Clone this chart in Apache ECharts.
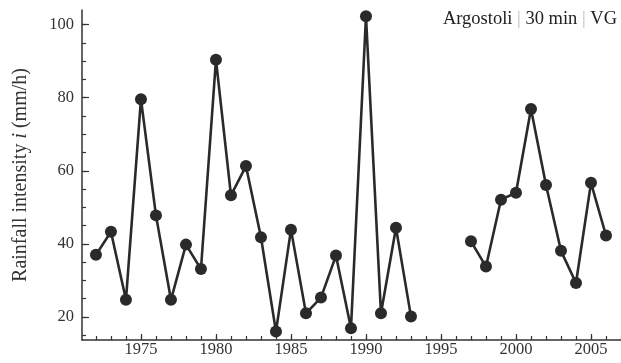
<!DOCTYPE html>
<html>
<head>
<meta charset="utf-8">
<script src="https://cdn.jsdelivr.net/npm/echarts@6/dist/echarts.min.js"></script>
<style>
    html, body { margin: 0; padding: 0; background: #fff; }
    #chart { width: 621px; height: 363px; }
</style>
</head>
<body>
<div id="chart"></div>
<script>
// 年份
var years = [1972, 1973, 1974, 1975, 1976, 1977, 1978, 1979, 1980, 1981, 1982, 1983,
    1984, 1985, 1986, 1987, 1988, 1989, 1990, 1991, 1992, 1993, 1994, 1995, 1996,
    1997, 1998, 1999, 2000, 2001, 2002, 2003, 2004, 2005, 2006];
// 降雨强度 (mm/h), 1994-1996 无数据
var intensity = [37.0, 43.3, 24.7, 79.6, 47.8, 24.7, 39.8, 33.1, 90.4, 53.3, 61.3, 41.8,
    16.0, 43.9, 21.0, 25.3, 36.8, 16.9, 102.3, 21.0, 44.4, 20.1, null, null, null,
    40.7, 33.8, 52.1, 54.0, 76.9, 56.1, 38.1, 29.3, 56.7, 42.3];
var yTickLabels = [20, 40, 60, 80, 100];
var xTickLabels = [1975, 1980, 1985, 1990, 1995, 2000, 2005];

var serif = "'Liberation Serif', 'Times New Roman', serif";
var ink = '#2a2a2a';

// 坐标换算 (主图范围)
var xMin = 1971.07, xMax = 2007, yMin = 13.7, yMax = 104;
var plotL = 82, plotT = 10, plotW = 539, plotH = 330;
function px(v) { return plotL + (v - xMin) / (xMax - xMin) * plotW; }
function py(v) { return plotT + (yMax - v) / (yMax - yMin) * plotH; }

var chart = echarts.init(document.getElementById('chart'));

var data = years.map(function (y, i) { return [y, intensity[i]]; });

var hidden = { type: 'value', show: false };
var tickLine = { color: '#333', width: 1.2 };

var opt = {
    animation: false,
    title: {
        text: 'Argostoli {p||} 30 min {p||} VG',
        right: 4,
        top: 10,
        padding: 0,
        textStyle: {
            fontFamily: serif, fontSize: 18.5, fontWeight: 'normal', color: '#222',
            rich: { p: { fontFamily: serif, fontSize: 18.5, color: '#c9b9aa' } }
        }
    },
    grid: [
        // 主图
        { left: plotL, top: plotT, width: plotW, height: plotH },
        // y 小刻度
        { left: plotL, top: py(100), width: plotW, height: py(15) - py(100) },
        // y 大刻度 + 标签
        { left: plotL, top: py(100), width: plotW, height: py(20) - py(100) },
        // x 小刻度
        { left: px(1972), top: plotT, width: px(2007) - px(1972), height: plotH },
        // x 大刻度 + 标签
        { left: px(1975), top: plotT, width: px(2005) - px(1975), height: plotH }
    ],
    xAxis: [
        {
            type: 'value', gridIndex: 0, min: xMin, max: xMax,
            axisLine: { show: true, lineStyle: { color: '#333', width: 1.5 } },
            axisTick: { show: false }, axisLabel: { show: false }, splitLine: { show: false }
        },
        Object.assign({ gridIndex: 1 }, hidden),
        Object.assign({ gridIndex: 2 }, hidden),
        {
            type: 'value', gridIndex: 3, min: 1972, max: 2007, interval: 1,
            axisLine: { show: false },
            axisTick: { show: true, inside: true, length: 4, lineStyle: tickLine },
            axisLabel: { show: false }, splitLine: { show: false }
        },
        {
            type: 'value', gridIndex: 4, min: xTickLabels[0], max: xTickLabels[xTickLabels.length - 1], interval: 5,
            axisLine: { show: false },
            axisTick: { show: true, inside: true, length: 6, lineStyle: tickLine },
            axisLabel: {
                show: true, margin: 1, fontFamily: serif, fontSize: 16.5, color: '#333',
                formatter: function (v) { return String(v); }
            },
            splitLine: { show: false }
        }
    ],
    yAxis: [
        {
            type: 'value', gridIndex: 0, min: yMin, max: yMax,
            axisLine: { show: true, lineStyle: { color: '#333', width: 1.5 } },
            axisTick: { show: false }, axisLabel: { show: false }, splitLine: { show: false },
            name: 'Rainfall intensity {it|i} (mm/h)',
            nameLocation: 'middle',
            nameGap: 51,
            nameTextStyle: {
                fontFamily: serif, fontSize: 20, color: '#333',
                rich: { it: { fontFamily: serif, fontSize: 20, fontStyle: 'italic', color: '#333' } }
            }
        },
        {
            type: 'value', gridIndex: 1, min: 15, max: 100, interval: 5,
            axisLine: { show: false },
            axisTick: { show: true, inside: true, length: 4, lineStyle: tickLine },
            axisLabel: { show: false }, splitLine: { show: false }
        },
        {
            type: 'value', gridIndex: 2, min: yTickLabels[0], max: yTickLabels[yTickLabels.length - 1], interval: 20,
            axisLine: { show: false },
            axisTick: { show: true, inside: true, length: 7, lineStyle: tickLine },
            axisLabel: { show: true, margin: 8, fontFamily: serif, fontSize: 16.5, color: '#333' },
            splitLine: { show: false }
        },
        Object.assign({ gridIndex: 3 }, hidden),
        Object.assign({ gridIndex: 4 }, hidden)
    ],
    series: [
        {
            type: 'line',
            xAxisIndex: 0,
            yAxisIndex: 0,
            data: data,
            connectNulls: false,
            symbol: 'circle',
            symbolSize: 12,
            lineStyle: { color: ink, width: 2.6 },
            itemStyle: { color: ink }
        }
    ]
};

chart.setOption(opt);
</script>
</body>
</html>
